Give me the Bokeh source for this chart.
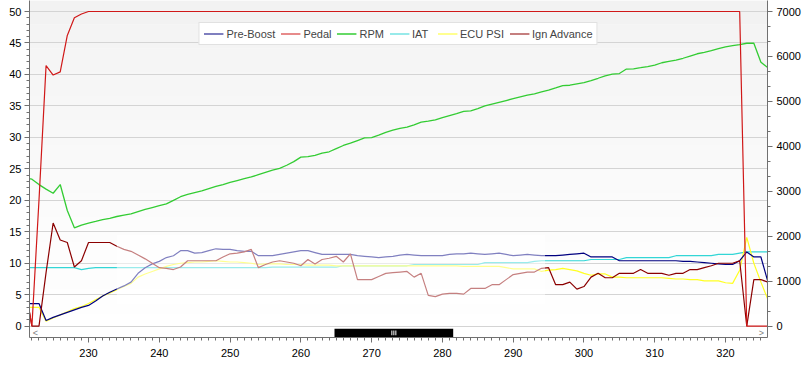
from bokeh.plotting import figure
from bokeh.models import Range1d, LinearAxis, Legend, LegendItem, BoxAnnotation, Label, FixedTicker
from bokeh.embed import file_html
from bokeh.resources import INLINE

# ---- data (one sample per second) ----
t = list(range(221, 327))

pre_boost = [3.6, 3.6, 3.6, 0.9, 1.4, 1.8, 2.2, 2.6, 3.0, 3.3, 4.0, 4.8, 5.4, 5.9, 6.4, 7.0, 8.4, 9.3, 9.9, 10.3,
             10.9, 11.2, 12.0, 12.0, 11.6, 11.7, 12.0, 12.3, 12.2, 12.2, 12.0, 11.9, 11.9, 11.2, 11.2, 11.2, 11.4, 11.6, 11.8, 12.0,
             12.0, 11.7, 11.4, 11.4, 11.4, 11.4, 11.4, 11.2, 11.1, 11.0, 10.9, 11.0, 11.1, 11.3, 11.4, 11.3, 11.2, 11.2, 11.2, 11.2,
             11.4, 11.5, 11.5, 11.6, 11.5, 11.4, 11.5, 11.6, 11.4, 11.2, 11.3, 11.4, 11.3, 11.2, 11.2, 11.2, 11.3, 11.4, 11.5, 11.6,
             11.0, 11.0, 11.0, 11.0, 10.4, 10.4, 10.4, 10.4, 10.4, 10.4, 10.4, 10.4, 10.4, 10.3, 10.3, 10.2, 10.1, 10.0, 9.9, 9.8,
             9.8, 10.4, 11.8, 11.0, 11.0, 7.0]

pedal = [6.5, 0.0, 20.0, 41.4, 39.9, 40.4, 46.2, 49.0, 49.6] + [50.0] * 93 + [0.0, 0.0, 0.0, 0.0]

rpm = [3300, 3270, 3150, 3050, 2958, 3151, 2573, 2188, 2250, 2291, 2330, 2370, 2400, 2440, 2470, 2500, 2550, 2600, 2640, 2680,
       2720, 2800, 2880, 2930, 2970, 3010, 3060, 3110, 3150, 3200, 3240, 3280, 3320, 3370, 3420, 3470, 3510, 3580, 3660, 3760,
       3770, 3800, 3850, 3880, 3950, 4020, 4070, 4130, 4190, 4195, 4250, 4310, 4360, 4400, 4430, 4480, 4537, 4560, 4590, 4640,
       4686, 4730, 4780, 4790, 4840, 4900, 4940, 4980, 5020, 5060, 5100, 5140, 5170, 5210, 5250, 5300, 5353, 5360, 5390, 5420,
       5464, 5515, 5570, 5605, 5620, 5720, 5725, 5750, 5776, 5805, 5860, 5890, 5920, 5960, 6010, 6060, 6090, 6130, 6175, 6215,
       6240, 6265, 6294, 6294, 5871, 5750]

iat = [9.3] * 8 + [9.0, 9.2] + [9.3] * 25 + [9.4] * 10 + [9.6] * 10 + [9.8] * 10 + [10.1] * 7 + [10.3] + [10.4] * 7 \
      + [10.6] * 5 + [10.9] * 7 + [11.2] * 6 + [11.4] * 3 + [11.6] + [11.8] * 4

ecu_psi = [3.0, 3.0, 3.0, 0.8, 1.3, 1.8, 2.3, 2.8, 3.1, 3.6, 4.2, 4.8, 5.3, 5.8, 6.3, 6.8, 7.8, 8.3, 8.7, 9.1,
           9.5, 9.8, 10.0, 10.1, 10.2, 10.2, 10.3, 10.4, 10.3, 10.2, 10.2, 10.1, 10.0, 9.8, 9.9, 9.9, 9.9, 9.8, 9.8, 9.8,
           9.7, 9.7, 9.7, 9.7, 9.6, 9.6, 9.6, 9.6, 9.6, 9.6, 9.6, 9.6, 9.6, 9.6, 9.6, 9.6, 9.6, 9.6, 9.6, 9.6,
           9.6, 9.6, 9.5, 9.5, 9.5, 9.5, 9.5, 9.5, 9.3, 9.1, 9.1, 9.1, 9.1, 8.7, 8.9, 9.0, 9.2, 9.0, 8.8, 8.4,
           8.1, 8.3, 8.3, 7.8, 7.8, 7.7, 7.7, 7.7, 7.7, 7.7, 7.7, 7.6, 7.5, 7.5, 7.4, 7.4, 7.2, 7.2, 7.2, 6.9,
           6.8, 8.9, 14.1, 10.0, 7.0, 4.2]

ign_adv = [6.5, 0.0, 0.0, 8.5, 16.4, 13.7, 13.3, 9.4, 10.4, 13.3, 13.3, 13.3, 13.3, 12.7, 12.2, 11.9, 11.3, 10.7, 10.0, 9.3,
           9.2, 9.0, 9.4, 10.4, 10.4, 10.4, 10.4, 10.4, 11.0, 11.5, 11.6, 11.8, 12.2, 9.3, 9.8, 10.2, 10.4, 10.2, 10.0, 9.6,
           10.6, 9.9, 10.6, 10.8, 11.1, 10.2, 11.5, 7.4, 7.4, 7.4, 7.9, 8.4, 8.5, 8.6, 8.7, 7.8, 8.4, 4.9, 4.7, 5.1,
           5.2, 5.2, 5.1, 6.0, 6.0, 6.0, 6.6, 6.6, 7.4, 8.2, 8.4, 8.6, 8.6, 9.2, 9.3, 6.6, 6.6, 7.0, 5.9, 6.3,
           7.8, 8.4, 7.7, 7.7, 8.4, 8.4, 8.4, 9.0, 8.4, 8.4, 8.4, 8.1, 8.4, 8.4, 9.0, 9.0, 9.3, 9.6, 10.0, 10.0,
           10.0, 10.4, 0.0, 7.4, 7.4, 7.0]

series_names = ["Pre-Boost", "Pedal", "RPM", "IAT", "ECU PSI", "Ign Advance"]
series_colors = ["#000080", "#d01818", "#33cc33", "#33d6d6", "#ffff22", "#8b0000"]

x_ticks = [230, 240, 250, 260, 270, 280, 290, 300, 310, 320]
y_ticks = [0, 5, 10, 15, 20, 25, 30, 35, 40, 45, 50]
rpm_ticks = [0, 1000, 2000, 3000, 4000, 5000, 6000, 7000]

# ---- figure ----
W, H = 807, 367
FL, FR, FT, FB = 29, 767, 0, 337          # plot frame edges in pixels
X0, X1 = 221.66, 325.93
PX_PER_Y = 6.294
Y_ZERO_PX = 325.7
Y1 = (Y_ZERO_PX - FT) / PX_PER_Y
Y0 = (Y_ZERO_PX - FB) / PX_PER_Y
RPM_PER_UNIT = 140.0

FONT = "Liberation Sans"
p = figure(width=W, height=H, x_range=Range1d(X0, X1), y_range=Range1d(Y0, Y1),
           output_backend="svg", toolbar_location=None,
           min_border_left=FL, min_border_right=W - FR, min_border_top=FT, min_border_bottom=H - FB)
p.background_fill_color = "#fcfcfc"
p.border_fill_color = "white"
p.outline_line_color = None

# soft vertical gradient of the plot background
n_bands = 14
for i in range(n_bands):
    frac0 = i / n_bands
    frac1 = (i + 1) / n_bands
    shade = int(round(0xf2 + (0xff - 0xf2) * (i / (n_bands - 1)) ** 0.8))
    p.add_layout(BoxAnnotation(top=Y1 - (Y1 - Y0) * frac0, bottom=Y1 - (Y1 - Y0) * frac1,
                               fill_color="#%02x%02x%02x" % (shade, shade, shade), fill_alpha=1.0,
                               line_color=None, level="image"))

p.extra_y_ranges = {"rpm": Range1d(Y0 * RPM_PER_UNIT, Y1 * RPM_PER_UNIT)}

axis_col = "#707070"


def style_axis(ax, standoff):
    ax.axis_line_color = axis_col
    ax.major_tick_line_color = axis_col
    ax.minor_tick_line_color = axis_col
    ax.major_label_text_font = FONT
    ax.major_label_text_font_size = "11px"
    ax.major_label_text_color = "black"
    ax.major_tick_in = 0
    ax.major_tick_out = 5
    ax.minor_tick_in = 0
    ax.minor_tick_out = 3
    ax.major_label_standoff = standoff


style_axis(p.xaxis[0], 6)
style_axis(p.yaxis[0], 3)
p.xaxis[0].ticker = FixedTicker(ticks=x_ticks, minor_ticks=list(range(222, 326)))
p.yaxis[0].ticker = FixedTicker(ticks=y_ticks, minor_ticks=list(range(0, 51)))

rax = LinearAxis(y_range_name="rpm", ticker=FixedTicker(ticks=rpm_ticks,
                 minor_ticks=[v * 1000 / 3.0 for v in range(0, 22)]))
style_axis(rax, 4)
p.add_layout(rax, "right")

p.xgrid.visible = False
p.ygrid[0].ticker = FixedTicker(ticks=y_ticks)
p.ygrid.grid_line_color = "#d4d4d4"
p.ygrid.grid_line_width = 1

# ---- lines ----
data_map = {"Pre-Boost": pre_boost, "Pedal": pedal, "RPM": rpm, "IAT": iat,
            "ECU PSI": ecu_psi, "Ign Advance": ign_adv}
renderers = {}
draw_order = ["RPM", "IAT", "ECU PSI", "Pre-Boost", "Ign Advance", "Pedal"]
for name in draw_order:
    col = series_colors[series_names.index(name)]
    if name == "RPM":
        r = p.line(t, data_map[name], line_color=col, line_width=1.3, y_range_name="rpm")
    else:
        r = p.line(t, data_map[name], line_color=col, line_width=1.2)
    renderers[name] = r

# faint white watermark haze over the middle of the chart (as in the source image)
p.add_layout(BoxAnnotation(left=234, right=294.5, bottom=3.5, top=14.5,
                           fill_color="white", fill_alpha=0.5, line_color=None))

legend = Legend(items=[LegendItem(label=n, renderers=[renderers[n]]) for n in series_names],
                orientation="horizontal", location="top_center")
legend.label_text_font = FONT
legend.label_text_font_size = "11px"
legend.label_height = 13
legend.glyph_height = 13
legend.glyph_width = 20
legend.label_standoff = 3
legend.spacing = 5
legend.padding = 4
legend.margin = 22
legend.border_line_color = "#c4c4c4"
legend.border_line_width = 1
legend.background_fill_color = "white"
legend.background_fill_alpha = 1.0
p.add_layout(legend, "center")

# ---- scrollbar decoration at the bottom of the plot area ----
PX_PER_X = (FR - FL) / (X1 - X0)
sb_left = X0 + (334 - FL) / PX_PER_X
sb_right = X0 + (452.7 - FL) / PX_PER_X
sb_bottom = (Y_ZERO_PX - 336.5) / PX_PER_Y
sb_top = (Y_ZERO_PX - 328.3) / PX_PER_Y
p.add_layout(BoxAnnotation(left=sb_left, right=sb_right, bottom=sb_bottom, top=sb_top,
                           fill_color="black", fill_alpha=1.0, line_color=None))
grip_mid = (sb_left + sb_right) / 2
grip_h = (sb_top - sb_bottom) * 0.22
for k in (-1, 0, 1):
    gx = grip_mid + k * 2.0 / PX_PER_X
    p.add_layout(BoxAnnotation(left=gx - 0.5 / PX_PER_X, right=gx + 0.5 / PX_PER_X,
                               bottom=sb_bottom + grip_h, top=sb_top - grip_h,
                               fill_color="white", fill_alpha=1.0, line_color=None))
p.add_layout(Label(x=X0 + 6 / PX_PER_X, y=(sb_bottom + sb_top) / 2, text="<",
                   text_color="#808080", text_font=FONT, text_font_size="9px",
                   text_align="center", text_baseline="middle"))
p.add_layout(Label(x=X1 - 6 / PX_PER_X, y=(sb_bottom + sb_top) / 2, text=">",
                   text_color="#808080", text_font=FONT, text_font_size="9px",
                   text_align="center", text_baseline="middle"))

open("out.html", "w").write(file_html(p, INLINE))
